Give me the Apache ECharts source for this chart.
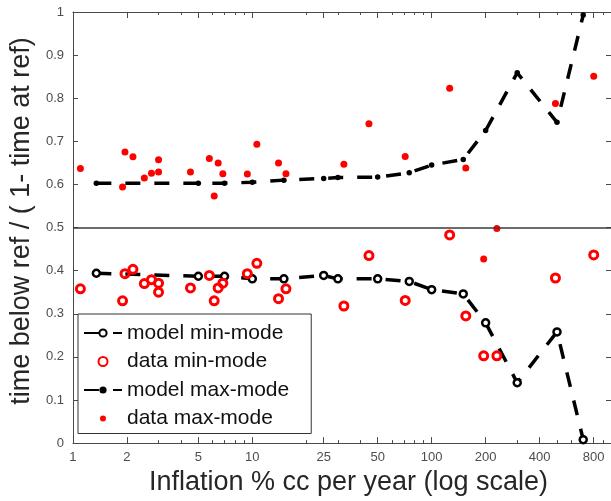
<!DOCTYPE html>
<html><head><meta charset="utf-8">
<script src="https://cdn.jsdelivr.net/npm/echarts@6/dist/echarts.min.js"></script>
<style>html,body{margin:0;padding:0;background:#fff;overflow:hidden}#c{width:611px;height:501px}</style>
</head><body><div id="c"></div>
<script>
// ---- data ----
const modelX   = [1.35, 5, 7, 10, 15, 25, 30, 50, 75, 100, 150, 200, 300, 500, 700];
const modelMin = [0.394, 0.387, 0.387, 0.381, 0.381, 0.389, 0.381, 0.381, 0.375, 0.356, 0.346, 0.279, 0.140, 0.258, 0.008];
const modelMax = [0.603, 0.603, 0.603, 0.605, 0.610, 0.614, 0.616, 0.617, 0.627, 0.645, 0.658, 0.725, 0.859, 0.744, 0.993];

const dataX   = [1.10, 1.89, 1.95, 2.16, 2.50, 2.74, 3.0, 3.0, 4.52, 5.76, 6.13, 6.45, 6.85, 9.38, 10.6, 14.0, 15.4, 32.4, 44.7, 71.2, 126, 155, 195, 231, 490, 801];
const dataMin = [0.358, 0.330, 0.393, 0.403, 0.370, 0.379, 0.371, 0.350, 0.360, 0.389, 0.330, 0.360, 0.371, 0.393, 0.417, 0.335, 0.358, 0.318, 0.435, 0.331, 0.483, 0.295, 0.2025, 0.2025, 0.383, 0.4365];
const dataMax = [0.637, 0.594, 0.675, 0.664, 0.615, 0.626, 0.657, 0.629, 0.629, 0.660, 0.573, 0.650, 0.625, 0.624, 0.693, 0.650, 0.625, 0.647, 0.741, 0.665, 0.823, 0.638, 0.427, 0.498, 0.788, 0.851];

const xTickLabels = [1, 2, 5, 10, 25, 50, 100, 200, 400, 800];
const xMinorTicks = [3, 4, 6, 7, 8, 9, 20, 30, 40, 60, 70, 80, 90, 300, 500, 600, 700, 900, 1000];
const seriesNames = ['model min-mode', 'data min-mode', 'model max-mode', 'data max-mode'];
const xTitle = 'Inflation % cc per year (log scale)';
const yTitle = 'time below ref / ( 1- time at ref)';

// ---- chart ----
const FONT = 'Liberation Sans, Arial, Helvetica, sans-serif';
const AXC = '#4a4a4a';
const zip = (xs, ys) => xs.map((x, i) => [x, ys[i]]);

function xAx(pos, ticks, len, withLabels, withLine) {
  const a = {
    type: 'log', logBase: 10, min: 1, max: 1000, position: pos,
    axisLine: { show: withLine, lineStyle: { color: AXC, width: 1 } },
    axisTick: { show: true, inside: true, length: len, customValues: ticks, lineStyle: { color: AXC, width: 1 } },
    axisLabel: { show: false },
    splitLine: { show: false }, minorTick: { show: false }, minorSplitLine: { show: false }
  };
  if (withLabels) {
    a.axisLabel = { show: true, customValues: xTickLabels, formatter: v => String(Math.round(v)),
      color: '#4d4d4d', fontSize: 13, fontFamily: FONT, margin: 8 };
    a.name = xTitle; a.nameLocation = 'middle'; a.nameGap = 13;
    a.nameTextStyle = { fontSize: 27, fontFamily: FONT, color: '#262626', padding: [0, 0, 0, 13] };
  }
  return a;
}
function yAx(pos, withLabels) {
  const a = {
    type: 'value', min: 0, max: 1, interval: 0.1, position: pos,
    axisLine: { show: true, lineStyle: { color: AXC, width: 1 } },
    axisTick: { show: true, inside: true, length: 5, lineStyle: { color: AXC } },
    axisLabel: { show: withLabels, formatter: v => String(+v.toFixed(1)), color: '#4d4d4d', fontSize: 13, fontFamily: FONT, margin: 9 },
    splitLine: { show: false }
  };
  if (withLabels) {
    a.name = yTitle; a.nameLocation = 'middle'; a.nameGap = 22;
    a.nameTextStyle = { fontSize: 27, fontFamily: FONT, color: '#262626', padding: [0, 0, 0, 13] };
  }
  return a;
}

const smallDotIcon = 'path://M0,0h0.01v0.01z M9,9h0.01v0.01z M1.5,4.5 A3,3 0 1,1 7.5,4.5 A3,3 0 1,1 1.5,4.5 Z';

const option = {
  animation: false,
  backgroundColor: '#fff',
  grid: { left: 66, top: 12, width: 547, height: 433, containLabel: false },
  xAxis: [
    xAx('bottom', xTickLabels, 6, true, true),
    xAx('bottom', xMinorTicks, 3, false, false),
    xAx('top', xTickLabels, 6, false, true),
    xAx('top', xMinorTicks, 3, false, false)
  ],
  yAxis: [ yAx('left', true), yAx('right', false) ],
  legend: {
    orient: 'vertical', left: 78, top: 314,
    backgroundColor: '#fff', borderColor: '#333', borderWidth: 1, borderRadius: 0,
    padding: [7, 22, 3, 5],
    itemWidth: 38, itemHeight: 9, itemGap: 4.5,
    textStyle: { fontSize: 21, fontFamily: FONT, color: '#111', lineHeight: 24 },
    data: [
      { name: seriesNames[0] },
      { name: seriesNames[1] },
      { name: seriesNames[2] },
      { name: seriesNames[3], icon: smallDotIcon }
    ]
  },
  series: [
    {
      name: seriesNames[0], type: 'line', xAxisIndex: 0, yAxisIndex: 0,
      data: zip(modelX, modelMin),
      symbol: 'circle', symbolSize: 7, showSymbol: true,
      lineStyle: { color: '#000', width: 3.5, type: [15, 14] },
      itemStyle: { color: '#fff', borderColor: '#000', borderWidth: 2.5, opacity: 1 },
      z: 3
    },
    {
      name: seriesNames[1], type: 'scatter', xAxisIndex: 0, yAxisIndex: 0,
      data: zip(dataX, dataMin),
      symbol: 'circle', symbolSize: 8,
      itemStyle: { color: 'rgba(255,255,255,0)', borderColor: '#ff0000', borderWidth: 3, opacity: 1 },
      z: 4,
      markLine: {
        silent: true, symbol: 'none', label: { show: false },
        lineStyle: { color: '#3a3a3a', width: 1.5, type: 'solid' },
        data: [{ yAxis: 0.5 }]
      }
    },
    {
      name: seriesNames[2], type: 'line', xAxisIndex: 0, yAxisIndex: 0,
      data: zip(modelX, modelMax),
      symbol: 'circle', symbolSize: 5.5, showSymbol: true,
      lineStyle: { color: '#000', width: 3.5, type: [15, 14] },
      itemStyle: { color: '#000', borderWidth: 0, opacity: 1 },
      z: 3
    },
    {
      name: seriesNames[3], type: 'scatter', xAxisIndex: 0, yAxisIndex: 0,
      data: zip(dataX, dataMax),
      symbol: 'circle', symbolSize: 7,
      itemStyle: { color: '#ff0000', opacity: 1 },
      z: 4
    }
  ]
};
const chart = echarts.init(document.getElementById('c'), null, { renderer: 'canvas' });
chart.setOption(option);
</script>
</body></html>
